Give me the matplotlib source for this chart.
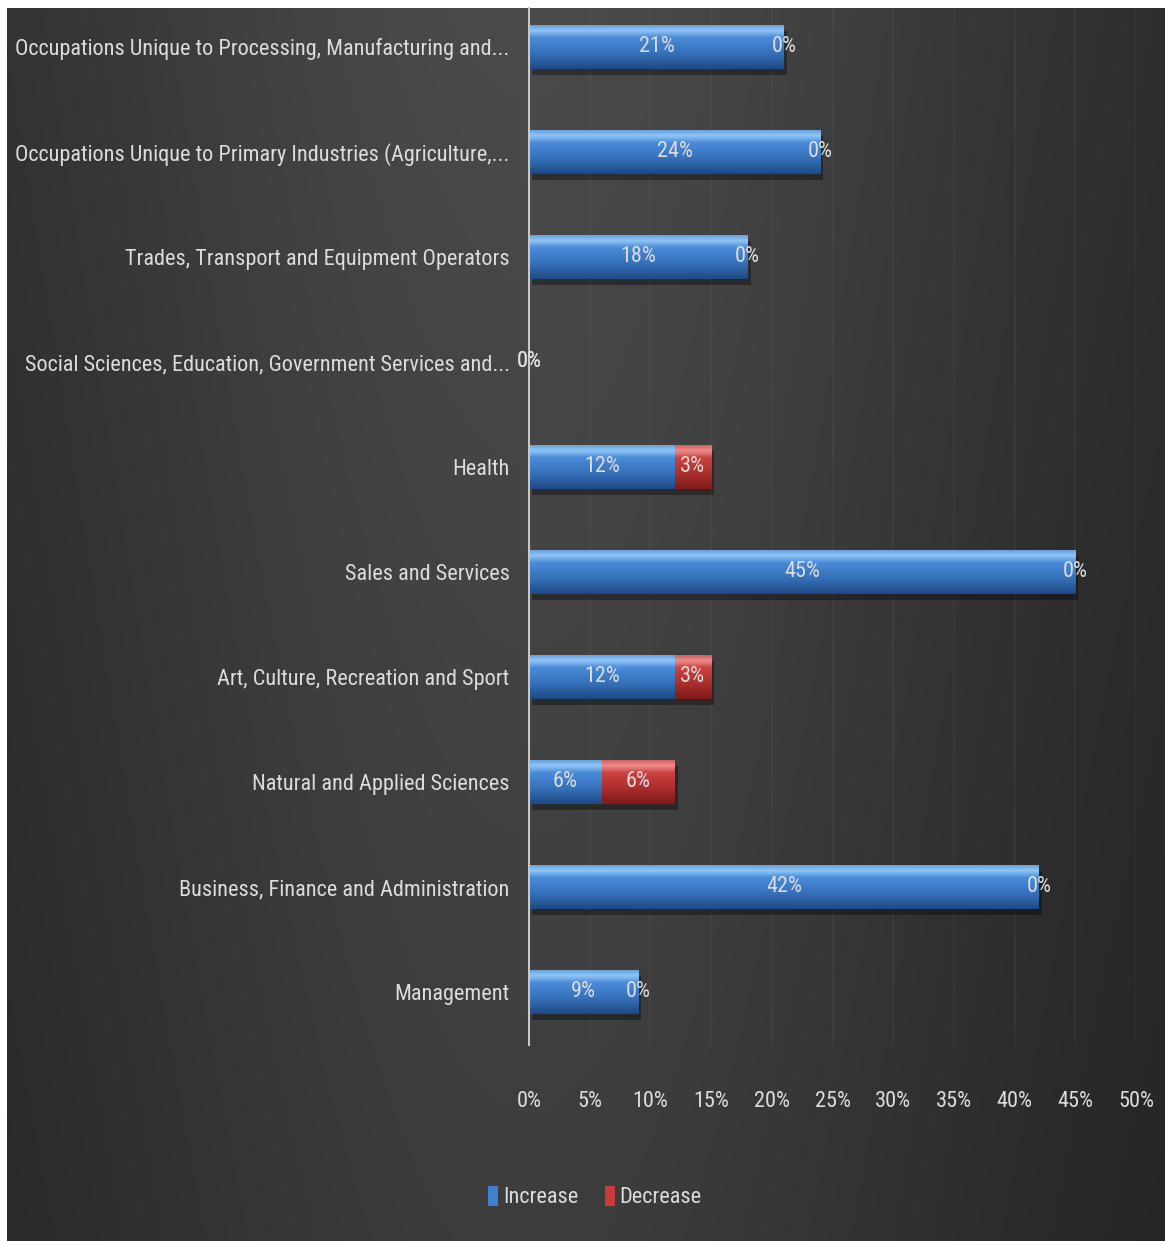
import numpy as np
import matplotlib
matplotlib.use("Agg")
import matplotlib.pyplot as plt
from matplotlib import font_manager
from matplotlib.font_manager import FontProperties
from matplotlib.textpath import TextPath
from matplotlib.colors import LinearSegmentedColormap
from matplotlib.patches import Patch

# categories listed bottom to top, as they appear on the y axis
categories = [
    "Management",
    "Business, Finance and Administration",
    "Natural and Applied Sciences",
    "Art, Culture, Recreation and Sport",
    "Sales and Services",
    "Health",
    "Social Sciences, Education, Government Services and...",
    "Trades, Transport and Equipment Operators",
    "Occupations Unique to Primary Industries (Agriculture,...",
    "Occupations Unique to Processing, Manufacturing and...",
]
increase = [9, 42, 6, 12, 45, 12, 0, 18, 24, 21]
decrease = [0, 0, 6, 3, 0, 3, 0, 0, 0, 0]
x_ticks = [0, 5, 10, 15, 20, 25, 30, 35, 40, 45, 50]
series_names = ["Increase", "Decrease"]

W, H = 1165, 1241
DPI = 100


def pick_font():
    """Return the narrowest sans face that is installed."""
    faces = font_manager.fontManager.ttflist
    names = {f.name for f in faces}
    for name in ("Liberation Sans Narrow", "Roboto Condensed",
                 "Noto Sans ExtraCondensed", "Open Sans Condensed",
                 "Noto Sans Condensed", "Open Sans SemiCondensed"):
        if name in names:
            return FontProperties(family=name)
    for fam in ("Noto Sans", "Roboto", "Open Sans", "Inter"):
        for st in ("extra-condensed", "condensed", "semi-condensed"):
            if any(f.name == fam and f.stretch == st and f.style == "normal"
                   for f in faces):
                return FontProperties(family=fam, stretch=st)
    return FontProperties(family="DejaVu Sans", stretch="condensed")


FP = pick_font()


def fit_size(text, width_px, cap):
    w = TextPath((0, 0), text, size=10, prop=FP).get_extents().width
    return min(cap, 10 * width_px / (w * DPI / 72))


LABEL_SIZE = fit_size(categories[-1], 492, 22)
TICK_SIZE = LABEL_SIZE

TEXT = "#dcdcdc"
fig = plt.figure(figsize=(W / DPI, H / DPI), dpi=DPI, facecolor="white")

# dark gradient backdrop
bg = fig.add_axes([7 / W, 0, 1 - 7 / W, 1 - 8 / H])
bg.set_axis_off()
X, Y = np.meshgrid(np.linspace(0, 1, 400), np.linspace(0, 1, 200))
shade = 0.16 + 0.13 * np.exp(-((X - 0.45) / 0.42) ** 2)
shade = shade * (0.82 + 0.18 * Y)
bg.imshow(np.dstack([shade] * 3), extent=[0, 1, 0, 1], origin="lower",
          aspect="auto", interpolation="bilinear")
bg.set_xlim(0, 1)
bg.set_ylim(0, 1)

ax = fig.add_axes([529 / W, 1 - 1045 / H, (1136 - 529) / W, (1045 - 8) / H])
ax.set_facecolor("none")

blue_cmap = LinearSegmentedColormap.from_list(
    "blue", [(0, "#1f4a82"), (0.35, "#3671bb"), (0.7, "#4a8bd8"),
             (0.86, "#8fc6f6"), (1, "#5e9de2")])
red_cmap = LinearSegmentedColormap.from_list(
    "red", [(0, "#7e1b1b"), (0.35, "#ad2e2e"), (0.7, "#cb4242"),
            (0.86, "#ee8d8d"), (1, "#d45656")])

y = np.arange(len(categories))
bar_h = 0.42
inc = np.array(increase, dtype=float)
dec = np.array(decrease, dtype=float)

# soft shadow under each bar
ax.barh(y - 0.06, inc + dec, left=0.25, height=bar_h, color="black",
        alpha=0.35, zorder=1, linewidth=0)

grad = np.linspace(0, 1, 64).reshape(-1, 1)
for vals, lefts, cmap in ((inc, np.zeros_like(inc), blue_cmap),
                          (dec, inc, red_cmap)):
    bars = ax.barh(y, vals, left=lefts, height=bar_h, color="none",
                   linewidth=0, zorder=2)
    for rect in bars:
        if rect.get_width() <= 0:
            continue
        x0, y0 = rect.get_x(), rect.get_y()
        im = ax.imshow(grad, extent=[x0, x0 + rect.get_width(), y0, y0 + bar_h],
                       origin="lower", cmap=cmap, aspect="auto", zorder=2,
                       interpolation="bilinear")
        im.set_clip_path(rect)

# data labels centred on each segment
for i in range(len(categories)):
    ax.text(inc[i] / 2, y[i], f"{increase[i]}%", ha="center", va="center",
            color=TEXT, fontproperties=FP, fontsize=TICK_SIZE, zorder=4)
    ax.text(inc[i] + dec[i] / 2, y[i], f"{decrease[i]}%", ha="center",
            va="center", color=TEXT, fontproperties=FP, fontsize=TICK_SIZE,
            zorder=4)

ax.set_xlim(0, 50)
ax.set_ylim(-0.505, 9.371)
ax.set_xticks(x_ticks)
ax.set_xticklabels([f"{t}%" for t in x_ticks])
ax.set_yticks(y)
ax.set_yticklabels(categories)
for lbl in ax.get_xticklabels():
    lbl.set_fontproperties(FP)
    lbl.set_fontsize(TICK_SIZE)
    lbl.set_color(TEXT)
for lbl in ax.get_yticklabels():
    lbl.set_fontproperties(FP)
    lbl.set_fontsize(LABEL_SIZE)
    lbl.set_color(TEXT)
ax.tick_params(axis="x", length=0, pad=33)
ax.tick_params(axis="y", length=0, pad=14)

ax.grid(axis="x", color="white", alpha=0.045, linewidth=1.2)
ax.set_axisbelow(True)
for side in ("top", "right", "bottom"):
    ax.spines[side].set_visible(False)
ax.spines["left"].set_color("#c8c8c8")
ax.spines["left"].set_linewidth(1.5)
ax.spines["left"].set_zorder(3)

leg_fp = FP.copy()
leg_fp.set_size(LABEL_SIZE)
handles = [Patch(facecolor="#3f80cf", edgecolor="none"),
           Patch(facecolor="#c93a3a", edgecolor="none")]
leg = fig.legend(handles, series_names, loc="center",
                 bbox_to_anchor=(595 / W, 1 - 1197 / H), ncol=2, frameon=False,
                 handlelength=0.45, handleheight=1.0, handletextpad=0.2,
                 columnspacing=1.2, prop=leg_fp)
for t in leg.get_texts():
    t.set_color(TEXT)

fig.savefig("out.png", dpi=DPI, facecolor="white")
